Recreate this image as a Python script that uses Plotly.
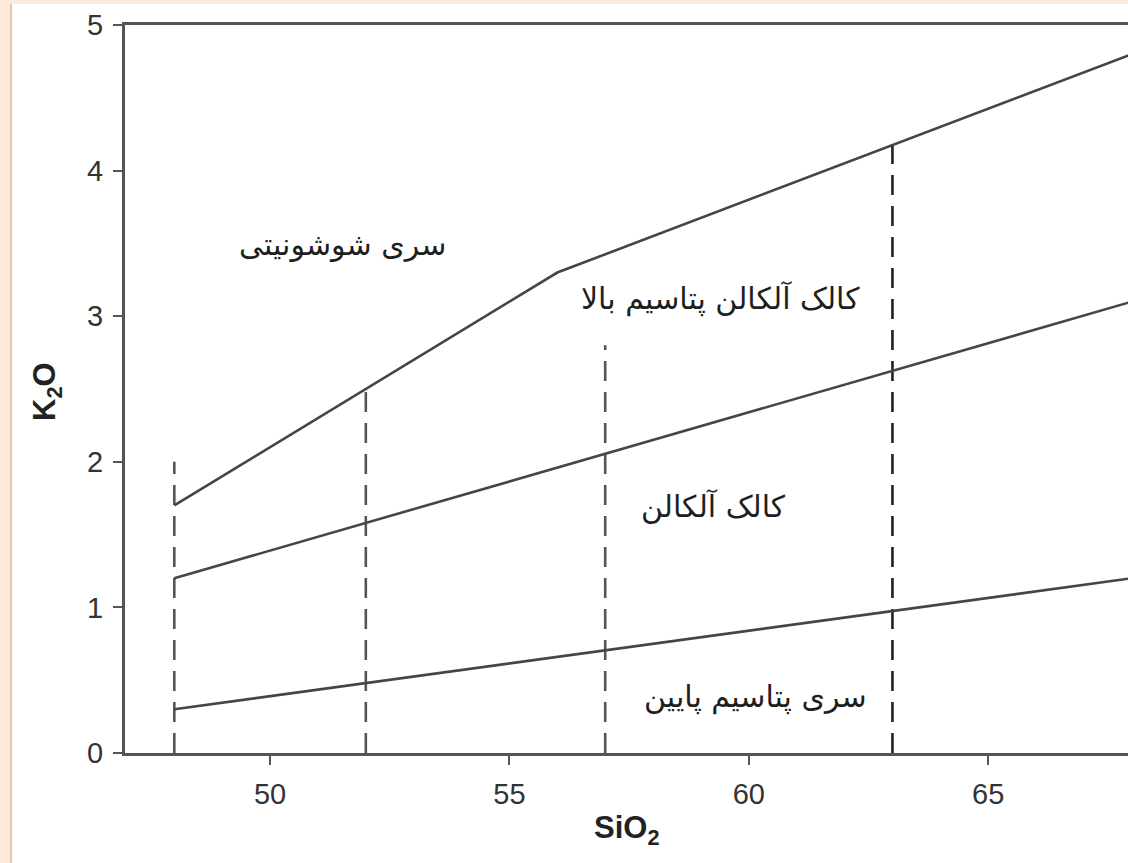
import plotly.graph_objects as go

# Boundary lines of the SiO2 vs K2O classification (wt%)
low_k_x = [48, 68]
low_k_y = [0.3, 1.2]
calc_alk_x = [48, 68]
calc_alk_y = [1.2, 3.1]
high_k_x = [48, 56, 68]
high_k_y = [1.7, 3.3, 4.8]

# Vertical dashed dividers (SiO2 value, top K2O value)
divider_x = [48, 52, 57, 63]
divider_top = [2.0, 2.5, 2.8, 4.2]
divider_color = ["#555555", "#555555", "#555555", "#222222"]

# Field names and their anchor points
field_labels = ["سری شوشونیتی", "کالک آلکالن پتاسیم بالا", "کالک آلکالن", "سری پتاسیم پایین"]
field_x = [51.52, 59.4, 59.27, 60.13]
field_y = [3.49, 3.12, 1.69, 0.385]

x_ticks = [50, 55, 60, 65]
y_ticks = [0, 1, 2, 3, 4, 5]

W, H = 1128, 863
ML, MR, MT, MB = 125, 0, 25, 110
PW, PH = W - ML - MR, H - MT - MB


def px_to_paper_x(px):
    return (px - ML) / PW


def px_to_paper_y(py):
    return (H - MB - py) / PH


fig = go.Figure()

for xv, top, col in zip(divider_x, divider_top, divider_color):
    fig.add_trace(go.Scatter(
        x=[xv, xv], y=[0, top], mode="lines",
        line=dict(color=col, width=2.6, dash="20px,11px"),
        hoverinfo="skip", showlegend=False))

for xs, ys in [(low_k_x, low_k_y), (calc_alk_x, calc_alk_y), (high_k_x, high_k_y)]:
    fig.add_trace(go.Scatter(
        x=xs, y=ys, mode="lines",
        line=dict(color="#454545", width=2.6),
        hoverinfo="skip", showlegend=False))

for txt, xv, yv in zip(field_labels, field_x, field_y):
    fig.add_annotation(x=xv, y=yv, xref="x", yref="y", text=txt, showarrow=False,
                       font=dict(family="DejaVu Sans", size=30, color="#1e1e1e"),
                       xanchor="center", yanchor="middle")

# Axis titles
fig.add_annotation(x=0.5, y=px_to_paper_y(830), xref="paper", yref="paper",
                   text="<b>SiO<sub>2</sub></b>", showarrow=False,
                   font=dict(family="Liberation Sans", size=31, color="#222222"),
                   xanchor="center", yanchor="middle")
fig.add_annotation(x=px_to_paper_x(47), y=px_to_paper_y(392), xref="paper", yref="paper",
                   text="<b>K<sub>2</sub>O</b>", showarrow=False, textangle=-90,
                   font=dict(family="Liberation Sans", size=31, color="#222222"),
                   xanchor="center", yanchor="middle")

# White sheet on a peach page with a thin left edge
fig.add_shape(type="rect", xref="paper", yref="paper", layer="below",
              x0=px_to_paper_x(11), x1=1.02, y0=px_to_paper_y(H + 5), y1=px_to_paper_y(4),
              fillcolor="white", line=dict(width=0))
fig.add_shape(type="line", xref="paper", yref="paper", layer="below",
              x0=px_to_paper_x(11), x1=px_to_paper_x(11), y0=px_to_paper_y(H + 5), y1=px_to_paper_y(4),
              line=dict(color="#dcc6b4", width=2))

fig.update_layout(
    width=W, height=H,
    margin=dict(l=ML, r=MR, t=MT, b=MB),
    paper_bgcolor="#fce9da",
    plot_bgcolor="white",
    showlegend=False,
)
fig.update_xaxes(
    range=[46.97, 67.92], tickvals=x_ticks, ticks="outside", ticklen=9, tickwidth=2,
    tickcolor="#555555", showline=True, linecolor="#555555", linewidth=3, mirror=True,
    showgrid=False, zeroline=False, ticklabelstandoff=4,
    tickfont=dict(family="Liberation Sans", size=29, color="#333333"))
fig.update_yaxes(
    range=[0, 5], tickvals=y_ticks, ticks="outside", ticklen=9, tickwidth=2,
    tickcolor="#555555", showline=True, linecolor="#555555", linewidth=3, mirror=False,
    showgrid=False, zeroline=False, ticklabelstandoff=4,
    tickfont=dict(family="Liberation Sans", size=29, color="#333333"))

fig.write_html("out.html")
